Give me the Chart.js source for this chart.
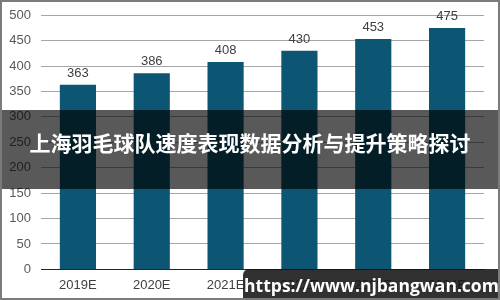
<!DOCTYPE html>
<html>
<head>
<meta charset="utf-8">
<script src="https://cdn.jsdelivr.net/npm/chart.js@4.4.1/dist/chart.umd.min.js"></script>
<style>
  html, body { margin: 0; padding: 0; background: #fff; }
  #wrap { position: relative; width: 500px; height: 300px; overflow: hidden; }
  #frame { position: absolute; left: 0; top: 0; width: 496px; height: 296px; border: 2px solid #7b7b7b; pointer-events: none; }
  #band { position: absolute; left: 0; top: 110px; width: 500px; height: 79px; background: rgba(0,0,0,0.65);
          color: #fff; font-family: "Noto Sans CJK SC", sans-serif; font-weight: bold; font-size: 21px;
          line-height: 64px; text-align: center; letter-spacing: 0px; }
  #mark { position: absolute; left: 243px; top: 269px; width: 257px; height: 31px; background: rgba(20,20,20,0.88);
          border-top-left-radius: 6px; color: #fff; font-family: "Open Sans", sans-serif; font-weight: bold;
          font-size: 17.5px; line-height: 33px; text-align: center; }
</style>
</head>
<body>
<div id="wrap">
  <canvas id="myChart" width="500" height="300"></canvas>
  <div id="band">上海羽毛球队速度表现数据分析与提升策略探讨</div>
  <div id="mark">https://www.njbangwan.com</div>
  <div id="frame"></div>
</div>
<script>
var years = ["2019E", "2020E", "2021E", "2022E", "2023E", "2024E"];
var values = [363, 386, 408, 430, 453, 475];
var yTicks = [0, 50, 100, 150, 200, 250, 300, 350, 400, 450, 500];

// draw the numbers above each bar
var barLabels = {
    id: 'barLabels',
    afterDatasetsDraw: function (chart) {
        var ctx = chart.ctx;
        var meta = chart.getDatasetMeta(0);
        ctx.save();
        ctx.font = '13px "Liberation Sans", Arial, sans-serif';
        ctx.fillStyle = '#404040';
        ctx.textAlign = 'center';
        ctx.textBaseline = 'bottom';
        meta.data.forEach(function (bar, i) {
            ctx.fillText(values[i], bar.x, bar.y - 5);
        });
        ctx.restore();
    }
};

var ctx = document.getElementById("myChart").getContext('2d');
var myChart = new Chart(ctx, {
    type: 'bar',
    data: {
        labels: years,
        datasets: [{
            data: values,
            backgroundColor: "#0d5673",
            barPercentage: 0.49,
            categoryPercentage: 1.0
        }]
    },
    options: {
        responsive: false,
        animation: false,
        layout: {
            padding: { top: -2, right: 16, bottom: -1, left: 0 }
        },
        plugins: {
            legend: { display: false },
            tooltip: { enabled: false }
        },
        scales: {
            x: {
                grid: { display: false, drawTicks: false },
                border: { color: '#262626', width: 1 },
                ticks: {
                    color: '#404040',
                    padding: 8,
                    font: { family: '"Liberation Sans", Arial, sans-serif', size: 13 }
                }
            },
            y: {
                min: 0,
                max: 500,
                afterBuildTicks: function (scale) {
                    scale.ticks = yTicks.map(function (v) { return { value: v }; });
                },
                afterFit: function (scale) { scale.width = 41; },
                grid: { color: '#a6a6a6', drawTicks: false },
                border: { display: false },
                ticks: {
                    color: '#595959',
                    padding: 10,
                    font: { family: '"Liberation Sans", Arial, sans-serif', size: 13, lineHeight: 0.8 }
                }
            }
        }
    },
    plugins: [barLabels]
});
</script>
</body>
</html>
